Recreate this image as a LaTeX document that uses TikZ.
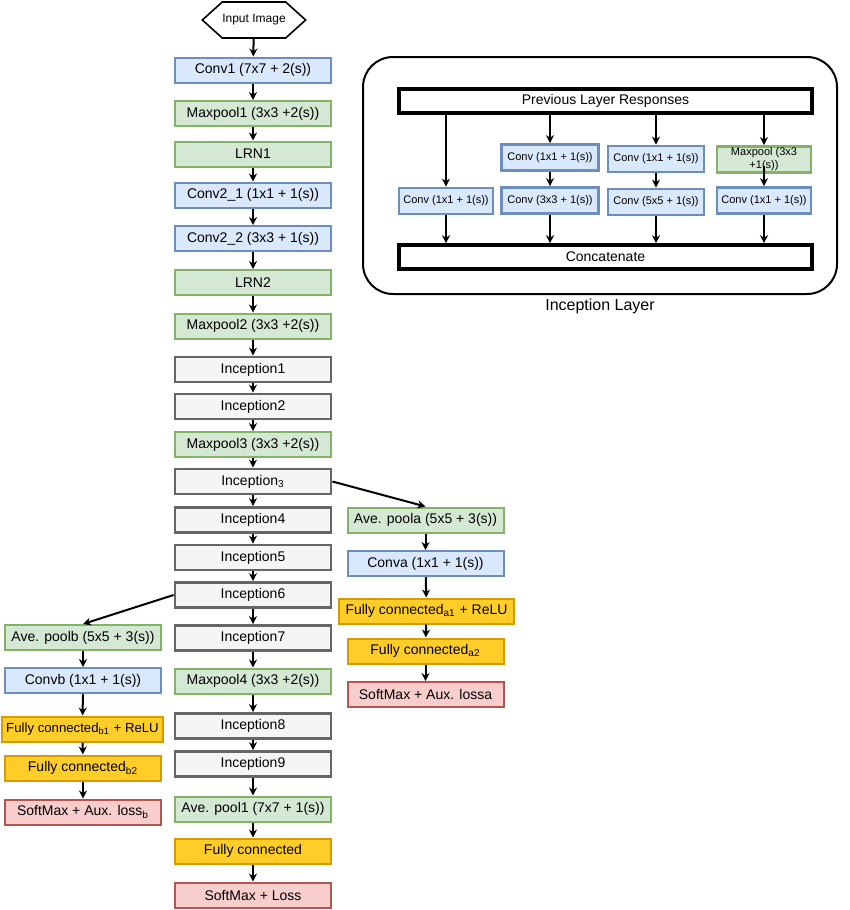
\documentclass[tikz,border=0pt]{standalone}
\usepackage{fontspec}
\setmainfont{Liberation Sans}
\usetikzlibrary{arrows.meta,shapes.symbols}

\definecolor{convfill}{HTML}{DAE8FC}
\definecolor{convline}{HTML}{6C8EBF}
\definecolor{poolfill}{HTML}{D5E8D4}
\definecolor{poolline}{HTML}{82B366}
\definecolor{incfill}{HTML}{F5F5F5}
\definecolor{incline}{HTML}{666666}
\definecolor{fcfill}{HTML}{FFCD28}
\definecolor{fcline}{HTML}{D79B00}
\definecolor{lossfill}{HTML}{F8CECC}
\definecolor{lossline}{HTML}{B85450}

\tikzset{
  layer/.style={draw, line width=1pt, minimum width=78pt, minimum height=12.5pt,
    inner sep=0.5pt, font=\fontsize{7}{8}\selectfont},
  conv/.style={layer, draw=convline, fill=convfill},
  pool/.style={layer, draw=poolline, fill=poolfill},
  incep/.style={layer, draw=incline, fill=incfill, line width=1.4pt},
  fc/.style={layer, draw=fcline, fill=fcfill},
  loss/.style={layer, draw=lossline, fill=lossfill},
  sconv/.style={draw=convline, fill=convfill, line width=1.4pt, minimum width=47pt,
    minimum height=13pt, inner sep=0.5pt, font=\fontsize{5.5}{6.5}\selectfont},
  spool/.style={sconv, draw=poolline, fill=poolfill},
  wide/.style={draw, line width=1.8pt, minimum width=206.5pt, minimum height=12pt,
    inner sep=0.5pt, font=\fontsize{7}{8}\selectfont},
  arr/.style={-{Stealth[length=4pt,width=4pt]}, line width=1pt},
}

\begin{document}
\begin{tikzpicture}[x=0.5pt,y=-0.5pt]
\useasboundingbox (0,0) rectangle (850,910);

% main column
\node[signal, signal to=east and west, signal from=nowhere, signal pointer angle=84,
  draw, line width=0.8pt, minimum width=43pt, minimum height=18pt, inner sep=0pt,
  font=\fontsize{6}{7}\selectfont] (input) at (254,20) {Input Image};
\node[conv] (conv1) at (253,70) {Conv1 (7x7 + 2(s))};
\node[pool] (mp1) at (253,113.5) {Maxpool1 (3x3 +2(s))};
\node[pool] (lrn1) at (253,154) {LRN1};
\node[conv] (conv21) at (253,195) {Conv2\_1 (1x1 + 1(s))};
\node[conv] (conv22) at (253,238.5) {Conv2\_2 (3x3 + 1(s))};
\node[pool] (lrn2) at (253,282.5) {LRN2};
\node[pool] (mp2) at (253,326) {Maxpool2 (3x3 +2(s))};
\node[incep] (inc1) at (253,369.5) {Inception1};
\node[incep] (inc2) at (253,406.5) {Inception2};
\node[pool] (mp3) at (253,444.5) {Maxpool3 (3x3 +2(s))};
\node[incep] (inc3) at (253,481.5) {Inception\textsubscript{3}};
\node[incep] (inc4) at (253,520) {Inception4};
\node[incep] (inc5) at (253,557.5) {Inception5};
\node[incep] (inc6) at (253,595) {Inception6};
\node[incep] (inc7) at (253,638) {Inception7};
\node[pool] (mp4) at (253,681) {Maxpool4 (3x3 +2(s))};
\node[incep] (inc8) at (253,726) {Inception8};
\node[incep] (inc9) at (253,764) {Inception9};
\node[pool] (avg1) at (253,809) {Ave. pool1 (7x7 + 1(s))};
\node[fc] (fc) at (253,851) {Fully connected};
\node[loss] (soft) at (253,895) {SoftMax + Loss};

\draw[arr] (input) -- (conv1);
\draw[arr] (conv1) -- (mp1);
\draw[arr] (mp1) -- (lrn1);
\draw[arr] (lrn1) -- (conv21);
\draw[arr] (conv21) -- (conv22);
\draw[arr] (conv22) -- (lrn2);
\draw[arr] (lrn2) -- (mp2);
\draw[arr] (mp2) -- (inc1);
\draw[arr] (inc1) -- (inc2);
\draw[arr] (inc2) -- (mp3);
\draw[arr] (mp3) -- (inc3);
\draw[arr] (inc3) -- (inc4);
\draw[arr] (inc4) -- (inc5);
\draw[arr] (inc5) -- (inc6);
\draw[arr] (inc6) -- (inc7);
\draw[arr] (inc7) -- (mp4);
\draw[arr] (mp4) -- (inc8);
\draw[arr] (inc8) -- (inc9);
\draw[arr] (inc9) -- (avg1);
\draw[arr] (avg1) -- (fc);
\draw[arr] (fc) -- (soft);

% auxiliary branch a
\node[pool] (avga) at (425.5,520) {Ave. poola (5x5 + 3(s))};
\node[conv] (conva) at (425.5,563.5) {Conva (1x1 + 1(s))};
\node[fc, minimum width=87.5pt] (fca1) at (426.5,611) {Fully connected\textsubscript{a1} + ReLU};
\node[fc] (fca2) at (425.5,651) {Fully connected\textsubscript{a2}};
\node[loss] (softa) at (425.5,694.5) {SoftMax + Aux. lossa};

\draw[arr] (inc3.east) -- (avga.north);
\draw[arr] (avga) -- (conva);
\draw[arr] (conva) -- (fca1);
\draw[arr] (fca1) -- (fca2);
\draw[arr] (fca2) -- (softa);

% auxiliary branch b
\node[pool] (avgb) at (83,637.5) {Ave. poolb (5x5 + 3(s))};
\node[conv] (convb) at (83,680.5) {Convb (1x1 + 1(s))};
\node[fc, minimum width=80.5pt, font=\fontsize{6.6}{7.6}\selectfont] (fcb1) at (82.5,729) {Fully connected\textsubscript{b1} + ReLU};
\node[fc] (fcb2) at (83,768) {Fully connected\textsubscript{b2}};
\node[loss] (softb) at (83,812) {SoftMax + Aux. loss\textsubscript{b}};

\draw[arr] (inc6.west) -- (avgb.north);
\draw[arr] (avgb) -- (convb);
\draw[arr] (convb) -- (fcb1);
\draw[arr] (fcb1) -- (fcb2);
\draw[arr] (fcb2) -- (softb);

% inception layer
\node[draw, line width=1pt, rounded corners=15pt, minimum width=237pt, minimum height=118.5pt]
  (panel) at (600,175.5) {};
\node[font=\fontsize{8}{9}\selectfont] (panellabel) at (600,306) {Inception Layer};
\node[wide] (prev) at (605.5,101) {Previous Layer Responses};
\node[wide] (concat) at (605.5,257) {Concatenate};

\node[sconv] (b1) at (446,201) {Conv (1x1 + 1(s))};
\node[sconv, minimum width=48.5pt] (b2a) at (550,157.5) {Conv (1x1 + 1(s))};
\node[sconv, minimum width=48.5pt] (b2b) at (550,200.5) {Conv (3x3 + 1(s))};
\node[sconv, minimum width=48pt] (b3a) at (656,159) {Conv (1x1 + 1(s))};
\node[sconv, minimum width=48pt] (b3b) at (656,202) {Conv (5x5 + 1(s))};
\node[spool, align=center] (b4a) at (764,159.5) {Maxpool (3x3\\+1(s))};
\node[sconv] (b4b) at (764,200.5) {Conv (1x1 + 1(s))};

\draw[arr] (prev.south -| b1.north) -- (b1.north);
\draw[arr] (prev.south -| b2a.north) -- (b2a.north);
\draw[arr] (prev.south -| b3a.north) -- (b3a.north);
\draw[arr] (prev.south -| b4a.north) -- (b4a.north);
\draw[arr] (b2a) -- (b2b);
\draw[arr] (b3a) -- (b3b);
\draw[arr] ([yshift=4pt]b4a.south) -- (b4b.north);
\draw[arr] (b1.south) -- (concat.north -| b1.south);
\draw[arr] (b2b.south) -- (concat.north -| b2b.south);
\draw[arr] (b3b.south) -- (concat.north -| b3b.south);
\draw[arr] (b4b.south) -- (concat.north -| b4b.south);
\end{tikzpicture}
\end{document}
